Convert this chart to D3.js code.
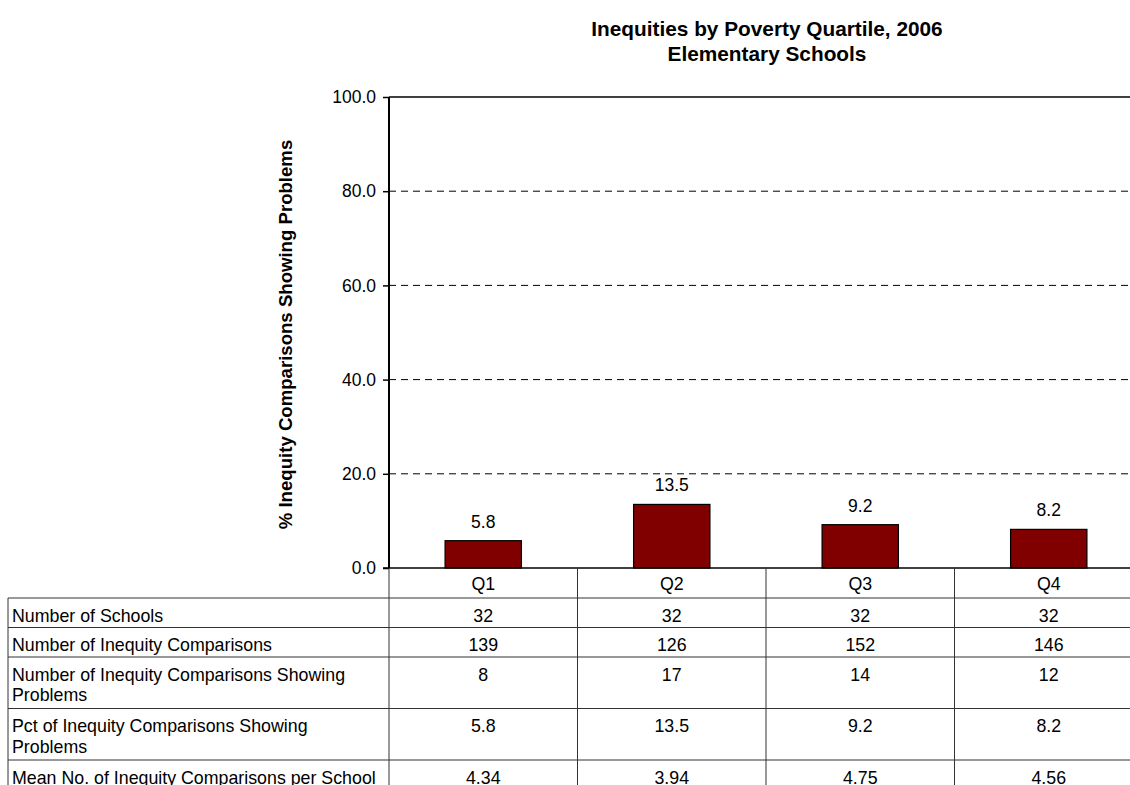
<!DOCTYPE html>
<html>
<head>
<meta charset="utf-8">
<script src="https://cdn.jsdelivr.net/npm/d3@7"></script>
<style>
  html, body { margin: 0; padding: 0; background: #fff; }
  svg { display: block; font-family: "Liberation Sans", Arial, sans-serif; }
</style>
</head>
<body>
<svg id="chart" width="1130" height="785"></svg>
<script>
// ---- data ----
const quartiles = ["Q1", "Q2", "Q3", "Q4"];
const pctShowingProblems = [5.8, 13.5, 9.2, 8.2];
const numberOfSchools = [32, 32, 32, 32];
const numberOfComparisons = [139, 126, 152, 146];
const numberShowingProblems = [8, 17, 14, 12];
const meanPerSchool = [4.34, 3.94, 4.75, 4.56];
const yTicks = [0, 20, 40, 60, 80, 100];
const titleLines = ["Inequities by Poverty Quartile, 2006", "Elementary Schools"];
const yAxisTitle = "% Inequity Comparisons Showing Problems";

const tableRows = [
  { label: "Number of Schools", values: numberOfSchools.map(String) },
  { label: "Number of Inequity Comparisons", values: numberOfComparisons.map(String) },
  { label: "Number of Inequity Comparisons Showing Problems", values: numberShowingProblems.map(String) },
  { label: "Pct of Inequity Comparisons Showing Problems", values: pctShowingProblems.map(v => v.toFixed(1)) },
  { label: "Mean No. of Inequity Comparisons per School", values: meanPerSchool.map(v => v.toFixed(2)) }
];

// ---- layout ----
const svg = d3.select("#chart");
const plotLeft = 389, plotTop = 97, plotBottom = 568;
const bandW = 188.5;
const plotRight = plotLeft + bandW * quartiles.length;
const tableLeft = 8;
const fontSize = 17.8;
const tickFont = 17.5;
const lineColor = "#333";

const x = d3.scaleBand().domain(quartiles).range([plotLeft, plotRight]).padding(0);
const y = d3.scaleLinear().domain([0, 100]).range([plotBottom, plotTop]);
const barW = x.bandwidth() * 0.405;

// title
svg.append("g").selectAll("text").data(titleLines).join("text")
  .attr("x", 767)
  .attr("y", (d, i) => 36 + i * 24.5)
  .attr("text-anchor", "middle")
  .attr("font-weight", "bold")
  .attr("font-size", 20.8)
  .text(d => d);

// dashed gridlines
svg.append("g").selectAll("line").data(yTicks.filter(t => t > 0 && t < 100)).join("line")
  .attr("x1", plotLeft).attr("x2", plotRight)
  .attr("y1", d => y(d)).attr("y2", d => y(d))
  .attr("stroke", "#000").attr("stroke-width", 1)
  .attr("stroke-dasharray", "7,5");

// top border of the plot area
svg.append("line")
  .attr("x1", plotLeft).attr("x2", plotRight)
  .attr("y1", y(100)).attr("y2", y(100))
  .attr("stroke", "#000").attr("stroke-width", 1.5);

// y axis
const yAxis = d3.axisLeft(y).tickValues(yTicks).tickFormat(d3.format(".1f")).tickSize(6).tickPadding(7);
const yg = svg.append("g").attr("transform", `translate(${plotLeft},0)`).call(yAxis);
yg.select(".domain").remove();
yg.selectAll(".tick line").attr("stroke", "#000").attr("stroke-width", 1.5);
yg.selectAll(".tick text").attr("font-size", tickFont).attr("fill", "#000")
  .attr("font-family", "Liberation Sans, Arial, sans-serif");

svg.append("line")
  .attr("x1", plotLeft).attr("x2", plotLeft)
  .attr("y1", plotTop).attr("y2", plotBottom)
  .attr("stroke", "#000").attr("stroke-width", 2);

// y axis title
svg.append("text")
  .attr("transform", `translate(292,${(plotTop + plotBottom) / 2 + 2}) rotate(-90)`)
  .attr("text-anchor", "middle")
  .attr("font-weight", "bold")
  .attr("font-size", 18.6)
  .text(yAxisTitle);

// bars
const barData = quartiles.map((q, i) => ({ q, v: pctShowingProblems[i] }));
svg.append("g").selectAll("rect").data(barData).join("rect")
  .attr("x", d => x(d.q) + (x.bandwidth() - barW) / 2)
  .attr("y", d => y(d.v))
  .attr("width", barW)
  .attr("height", d => y(0) - y(d.v))
  .attr("fill", "#800000")
  .attr("stroke", "#000")
  .attr("stroke-width", 1.2);

// bar value labels
svg.append("g").selectAll("text").data(barData).join("text")
  .attr("x", d => x(d.q) + x.bandwidth() / 2)
  .attr("y", d => y(d.v) - 13)
  .attr("text-anchor", "middle")
  .attr("font-size", tickFont)
  .text(d => d.v.toFixed(1));

// ---- data table ----
const tbl = svg.append("g");
const lineH = 20.5;

// wrap row labels to the label column width
const labelWidth = 369;
const measure = svg.append("text").attr("font-size", fontSize).attr("visibility", "hidden");
function wrap(str) {
  const words = str.split(" ");
  const lines = [];
  let cur = "";
  words.forEach(w => {
    const test = cur ? cur + " " + w : w;
    measure.text(test);
    if (measure.node().getComputedTextLength() > labelWidth && cur) {
      lines.push(cur);
      cur = w;
    } else cur = test;
  });
  lines.push(cur);
  return lines;
}

// header row with quartile names
const headerBottom = plotBottom + 30;
tbl.selectAll("text.hdr").data(quartiles).join("text")
  .attr("class", "hdr")
  .attr("x", d => x(d) + x.bandwidth() / 2)
  .attr("y", plotBottom + 22)
  .attr("text-anchor", "middle")
  .attr("font-size", fontSize)
  .text(d => d);

let rowTop = headerBottom;
const rowBounds = [headerBottom];
tableRows.forEach(row => {
  const lines = wrap(row.label);
  const h = lines.length === 1 ? 29.5 : 51.5;
  const g = tbl.append("g");
  g.selectAll("text.lbl").data(lines).join("text")
    .attr("class", "lbl")
    .attr("x", tableLeft + 4)
    .attr("y", (d, i) => rowTop + 23.5 + i * lineH)
    .attr("font-size", fontSize)
    .text(d => d);
  g.selectAll("text.val").data(row.values).join("text")
    .attr("class", "val")
    .attr("x", (d, i) => x(quartiles[i]) + x.bandwidth() / 2)
    .attr("y", rowTop + 23.5)
    .attr("text-anchor", "middle")
    .attr("font-size", fontSize)
    .text(d => d);
  rowTop += h;
  rowBounds.push(rowTop);
});
measure.remove();

// horizontal table rules
tbl.selectAll("line.h").data(rowBounds.slice(0, -1)).join("line")
  .attr("class", "h")
  .attr("x1", tableLeft).attr("x2", plotRight)
  .attr("y1", d => d).attr("y2", d => d)
  .attr("stroke", lineColor).attr("stroke-width", 1);

// bottom axis line / top of header row
tbl.append("line")
  .attr("x1", plotLeft - 6).attr("x2", plotRight)
  .attr("y1", plotBottom).attr("y2", plotBottom)
  .attr("stroke", "#000").attr("stroke-width", 1.5);

// vertical table rules
const colEdges = quartiles.map(q => x(q));
tbl.selectAll("line.v").data(colEdges).join("line")
  .attr("class", "v")
  .attr("x1", d => d).attr("x2", d => d)
  .attr("y1", plotBottom).attr("y2", rowTop)
  .attr("stroke", lineColor).attr("stroke-width", 1);
tbl.append("line")
  .attr("x1", tableLeft).attr("x2", tableLeft)
  .attr("y1", headerBottom).attr("y2", rowTop)
  .attr("stroke", lineColor).attr("stroke-width", 1);
</script>
</body>
</html>
